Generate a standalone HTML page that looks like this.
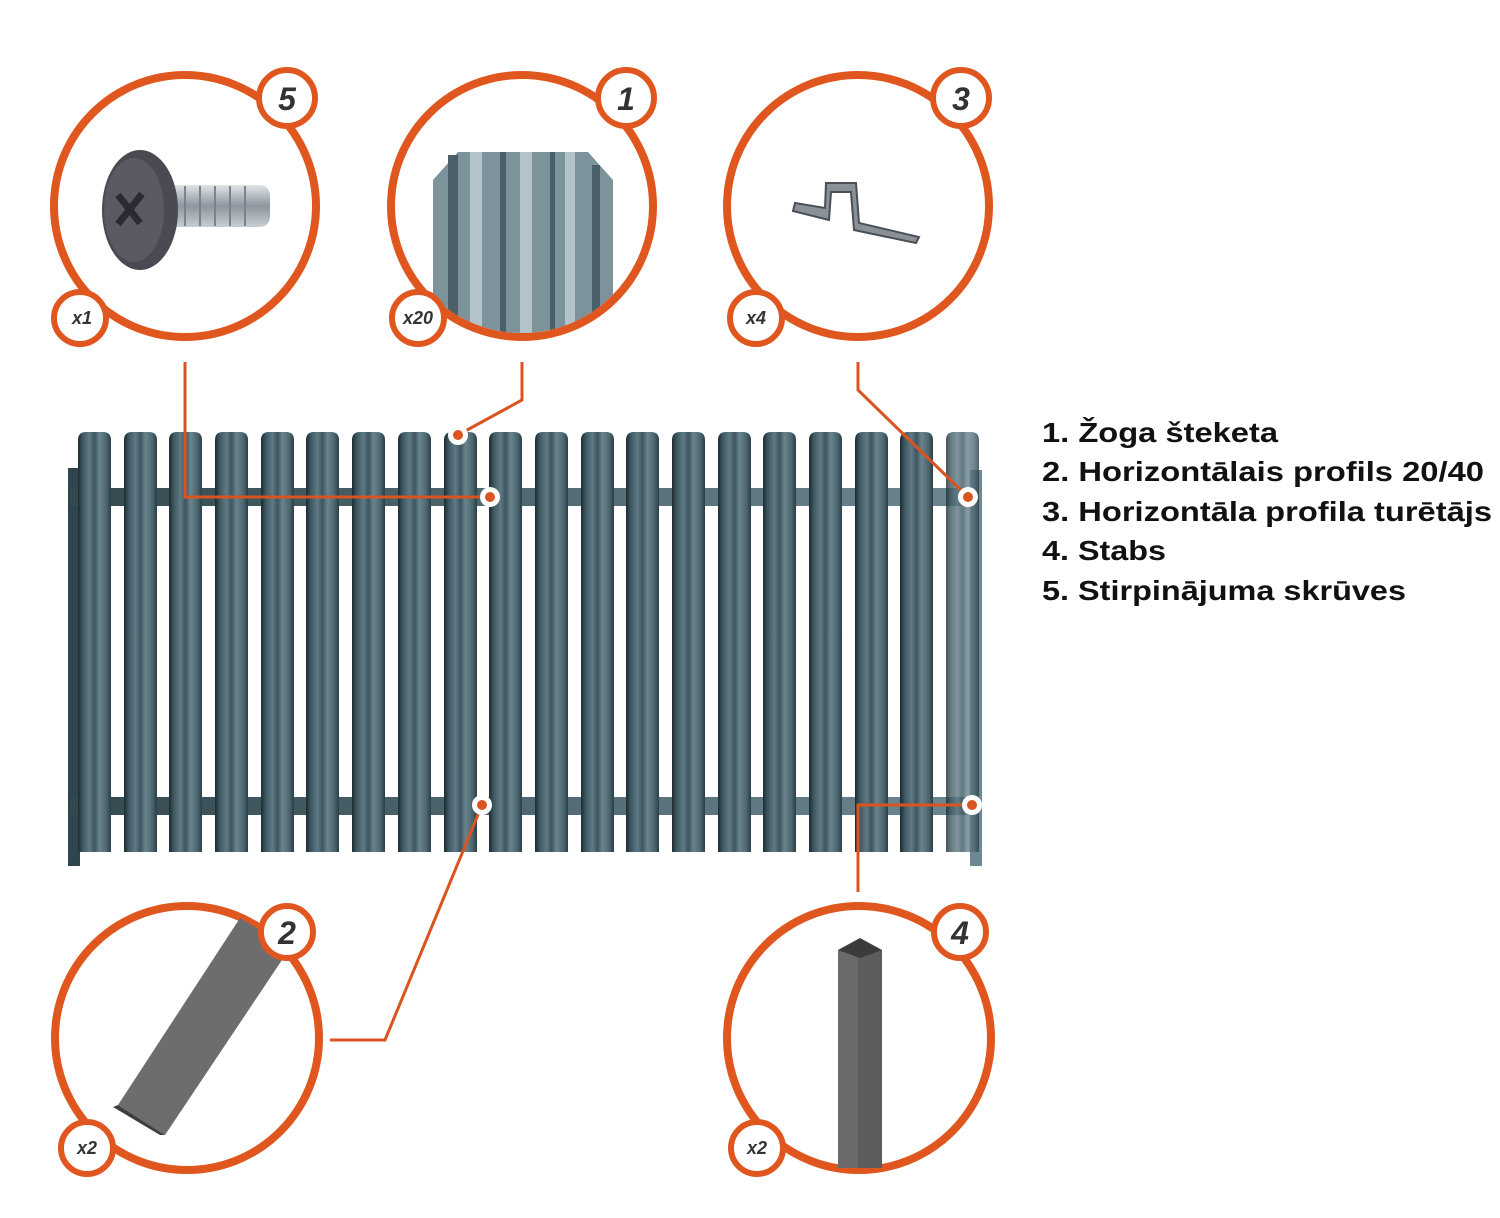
<!DOCTYPE html>
<html><head><meta charset="utf-8"><style>
html,body{margin:0;padding:0;background:#fff;width:1500px;height:1218px;overflow:hidden}
svg{display:block}
</style></head><body>
<svg width="1500" height="1218" viewBox="0 0 1500 1218" xmlns="http://www.w3.org/2000/svg">
<defs>
<linearGradient id="pk" x1="0" y1="0" x2="1" y2="0">
<stop offset="0" stop-color="#1c2b32"/><stop offset="0.15" stop-color="#3f5963"/>
<stop offset="0.35" stop-color="#5f7a85"/><stop offset="0.5" stop-color="#3d555f"/>
<stop offset="0.65" stop-color="#6a848e"/><stop offset="0.85" stop-color="#4e6872"/>
<stop offset="1" stop-color="#2a3e46"/></linearGradient>
<linearGradient id="rail" x1="0" y1="0" x2="1" y2="0">
<stop offset="0" stop-color="#34494f"/><stop offset="1" stop-color="#6d8893"/></linearGradient>
<linearGradient id="scr" x1="0" y1="0" x2="0" y2="1">
<stop offset="0" stop-color="#e0e4e8"/><stop offset="0.5" stop-color="#8d969e"/><stop offset="1" stop-color="#c8ced3"/></linearGradient>
<clipPath id="c1"><circle cx="522" cy="206" r="127"/></clipPath>
<clipPath id="c2"><circle cx="187" cy="1038" r="128"/></clipPath>
</defs>
<!-- posts -->
<rect x="68" y="468" width="12" height="398" fill="#2f444c"/>
<rect x="970" y="470" width="12" height="396" fill="#6d8893"/>
<!-- rails -->
<rect x="70" y="488" width="910" height="18" fill="url(#rail)"/>
<rect x="70" y="797" width="910" height="18" fill="url(#rail)"/>
<!-- pickets -->
<g fill="url(#pk)">
<path d="M78 852V440q0-8 8-8h17q8 0 8 8V852Z"/>
<path d="M124 852V440q0-8 8-8h17q8 0 8 8V852Z"/>
<path d="M169 852V440q0-8 8-8h17q8 0 8 8V852Z"/>
<path d="M215 852V440q0-8 8-8h17q8 0 8 8V852Z"/>
<path d="M261 852V440q0-8 8-8h17q8 0 8 8V852Z"/>
<path d="M306 852V440q0-8 8-8h17q8 0 8 8V852Z"/>
<path d="M352 852V440q0-8 8-8h17q8 0 8 8V852Z"/>
<path d="M398 852V440q0-8 8-8h17q8 0 8 8V852Z"/>
<path d="M444 852V440q0-8 8-8h17q8 0 8 8V852Z"/>
<path d="M489 852V440q0-8 8-8h17q8 0 8 8V852Z"/>
<path d="M535 852V440q0-8 8-8h17q8 0 8 8V852Z"/>
<path d="M581 852V440q0-8 8-8h17q8 0 8 8V852Z"/>
<path d="M626 852V440q0-8 8-8h17q8 0 8 8V852Z"/>
<path d="M672 852V440q0-8 8-8h17q8 0 8 8V852Z"/>
<path d="M718 852V440q0-8 8-8h17q8 0 8 8V852Z"/>
<path d="M763 852V440q0-8 8-8h17q8 0 8 8V852Z"/>
<path d="M809 852V440q0-8 8-8h17q8 0 8 8V852Z"/>
<path d="M855 852V440q0-8 8-8h17q8 0 8 8V852Z"/>
<path d="M900 852V440q0-8 8-8h17q8 0 8 8V852Z"/>
<path d="M946 852V440q0-8 8-8h17q8 0 8 8V852Z" opacity="0.8"/>
</g>
<!-- connectors -->
<g fill="none" stroke="#d9541f" stroke-width="3">
<polyline points="185,362 185,497 490,497"/>
<polyline points="522,362 522,400 458,435"/>
<polyline points="858,362 858,390 968,497"/>
<polyline points="330,1040 385,1040 482,805"/>
<polyline points="858,892 858,805 972,805"/>
</g>
<g>
<circle cx="490" cy="497" r="10" fill="#fff"/><circle cx="490" cy="497" r="5" fill="#d9541f"/>
<circle cx="458" cy="435" r="10" fill="#fff"/><circle cx="458" cy="435" r="5" fill="#d9541f"/>
<circle cx="968" cy="497" r="10" fill="#fff"/><circle cx="968" cy="497" r="5" fill="#d9541f"/>
<circle cx="482" cy="805" r="10" fill="#fff"/><circle cx="482" cy="805" r="5" fill="#d9541f"/>
<circle cx="972" cy="805" r="10" fill="#fff"/><circle cx="972" cy="805" r="5" fill="#d9541f"/>
</g>
<!-- big circles -->
<g fill="#fff" stroke="#e0561f" stroke-width="8">
<circle cx="185" cy="206" r="131"/>
<circle cx="522" cy="206" r="131"/>
<circle cx="858" cy="206" r="131"/>
<circle cx="187" cy="1038" r="132"/>
<circle cx="859" cy="1038" r="132"/>
</g>
<!-- screw -->
<rect x="165" y="185" width="105" height="42" rx="10" fill="url(#scr)"/>
<g stroke="#7a838b" stroke-width="2"><path d="M185 186v40M200 186v40M215 186v40M230 186v40M245 186v40"/></g>
<ellipse cx="140" cy="210" rx="38" ry="60" fill="#4a4a52"/>
<ellipse cx="134" cy="210" rx="30" ry="52" fill="#5b5a62"/>
<path d="M118 195l22 28M142 194l-24 30" stroke="#2b2a30" stroke-width="7"/>
<!-- picket 1 -->
<g clip-path="url(#c1)">
<path d="M433 360V180l25-28h130l25 28v180Z" fill="#7d939b"/>
<g fill="#4a5f68"><rect x="448" y="155" width="10" height="205"/><rect x="500" y="152" width="6" height="208"/><rect x="550" y="152" width="5" height="208"/><rect x="592" y="165" width="8" height="195"/></g>
<g fill="#b4c3c9"><rect x="470" y="152" width="12" height="208"/><rect x="520" y="152" width="12" height="208"/><rect x="565" y="152" width="10" height="208"/></g>
</g>
<!-- bracket -->
<path d="M795 203l30 5 1-25h30l3 40 60 14-3 6-62-13-3-38h-20l-2 28-36-9Z" fill="#8a9298" stroke="#4a5056" stroke-width="2"/>
<!-- profile 2 -->
<path d="M118 1105L240 918l50 30L165 1135Z" fill="#6d6d6d"/>
<path d="M118 1105l47 30-5 0-47-28Z" fill="#3e3e3e"/>
<!-- post 4 -->
<rect x="838" y="950" width="44" height="218" fill="#6a6a6a"/>
<rect x="858" y="950" width="24" height="218" fill="#5c5c5c"/>
<path d="M838 950l22-12 22 12-22 8Z" fill="#3b3b3b"/>
<!-- small circles -->
<g fill="#fff" stroke="#e0561f" stroke-width="6">
<circle cx="287" cy="98" r="28"/><circle cx="626" cy="98" r="28"/><circle cx="961" cy="98" r="28"/>
<circle cx="287" cy="932" r="26"/><circle cx="960" cy="932" r="26"/>
<circle cx="80" cy="318" r="26"/><circle cx="418" cy="318" r="26"/><circle cx="756" cy="318" r="26"/>
<circle cx="87" cy="1148" r="26"/><circle cx="757" cy="1148" r="26"/>
</g>
<g font-family="Liberation Sans, sans-serif" font-weight="bold" font-style="italic" fill="#333" text-anchor="middle">
<text x="287" y="110" font-size="32">5</text><text x="626" y="110" font-size="32">1</text><text x="961" y="110" font-size="32">3</text>
<text x="287" y="944" font-size="32">2</text><text x="960" y="944" font-size="32">4</text>
<text x="82" y="324" font-size="18">x1</text><text x="418" y="324" font-size="18">x20</text><text x="756" y="324" font-size="18">x4</text>
<text x="87" y="1154" font-size="18">x2</text><text x="757" y="1154" font-size="18">x2</text>
</g>
<!-- legend -->
<g font-family="Liberation Sans, sans-serif" font-weight="bold" font-size="28" fill="#111">
<text x="1042" y="442" textLength="236" lengthAdjust="spacingAndGlyphs">1. Žoga šteketa</text>
<text x="1042" y="481" textLength="442" lengthAdjust="spacingAndGlyphs">2. Horizontālais profils 20/40</text>
<text x="1042" y="521" textLength="450" lengthAdjust="spacingAndGlyphs">3. Horizontāla profila turētājs</text>
<text x="1042" y="560" textLength="124" lengthAdjust="spacingAndGlyphs">4. Stabs</text>
<text x="1042" y="600" textLength="364" lengthAdjust="spacingAndGlyphs">5. Stirpinājuma skrūves</text>
</g>
</svg>
</body></html>
